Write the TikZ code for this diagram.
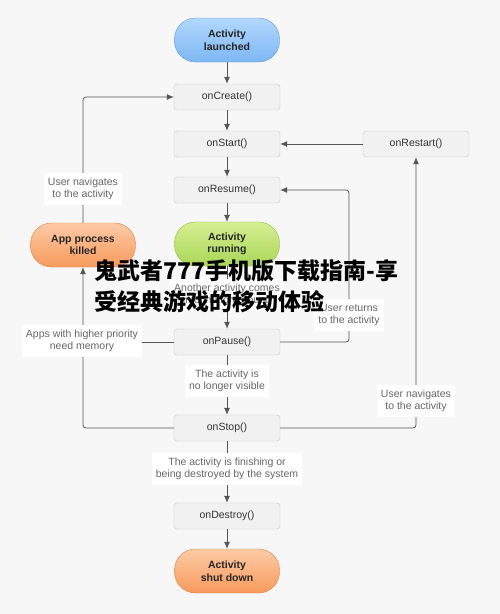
\documentclass[tikz,border=0pt]{standalone}
\usepackage{fontspec}
\setmainfont{Liberation Sans}
\newfontfamily\cjk{Noto Sans CJK SC}
\usepackage{tikz}
\usetikzlibrary{arrows.meta}

\definecolor{bgcol}{HTML}{F7F7F7}
\definecolor{boxfill}{HTML}{F1F1F1}
\definecolor{boxline}{HTML}{C9C9C9}
\definecolor{linecol}{HTML}{555555}
\definecolor{lbltext}{HTML}{666666}
\definecolor{blueA}{HTML}{B3D8FC}
\definecolor{blueB}{HTML}{7CB7F4}
\definecolor{blueC}{HTML}{5C9BE2}
\definecolor{greenA}{HTML}{D6EF92}
\definecolor{greenB}{HTML}{A9D657}
\definecolor{greenC}{HTML}{8FBF3F}
\definecolor{orangeA}{HTML}{FDCBA6}
\definecolor{orangeB}{HTML}{F79A5B}
\definecolor{orangeC}{HTML}{E0814A}

\begin{document}
\begin{tikzpicture}[x=1pt, y=-1pt,
    txt/.style={font=\fontsize{10.5}{12.5}\selectfont, align=center},
    callbox/.style={txt, draw=boxline, fill=boxfill, rounded corners=3pt,
      minimum width=106pt, minimum height=26pt, text=black!80},
    pill/.style={txt, font=\fontsize{10.5}{12.5}\selectfont\bfseries, rounded corners=21pt,
      minimum width=105pt, minimum height=44pt, text=black!85},
    lbl/.style={txt, fill=white, text=lbltext, inner xsep=4pt, inner ysep=5pt},
    conn/.style={draw=linecol, line width=0.8pt, rounded corners=3pt},
    arr/.style={conn, -{Latex[length=7pt,width=6pt]}}]
      \fill[bgcol] (0,0) rectangle (500,614);
      \useasboundingbox (0,0) rectangle (500,614);

      % states and callbacks
      \node[pill, draw=blueC, top color=blueA, bottom color=blueB] (launched) at (227,40) {Activity\\launched};
      \node[callbox] (create) at (227,97) {onCreate()};
      \node[callbox] (start) at (227,144) {onStart()};
      \node[callbox] (resume) at (227,190) {onResume()};
      \node[pill, draw=greenC, top color=greenA, bottom color=greenB] (running) at (227,244) {Activity\\running};
      \node[callbox] (pause) at (227,342) {onPause()};
      \node[callbox] (stop) at (227,428) {onStop()};
      \node[callbox] (destroy) at (227,516) {onDestroy()};
      \node[pill, draw=orangeC, top color=orangeA, bottom color=orangeB] (shutdown) at (227,571) {Activity\\shut down};
      \node[callbox] (restart) at (416,144) {onRestart()};
      \node[pill, draw=orangeC, top color=orangeA, bottom color=orangeB] (killed) at (83,245) {App process\\killed};
      \coordinate (back) at (349,0);

      % main flow
      \draw[arr] (launched) -- (create);
      \draw[arr] (create) -- (start);
      \draw[arr] (start) -- (resume);
      \draw[arr] (resume) -- (running);
      \draw[arr] (running) -- (pause);
      \draw[arr] (pause) -- (stop);
      \draw[arr] (stop) -- (destroy);
      \draw[arr] (destroy) -- (shutdown);

      % loops
      \draw[arr] (restart) -- (start);
      \draw[arr] (stop.east) -| (restart.south);
      \draw[arr] (pause.east) -| (back |- resume.east) -- (resume.east);
      \draw[arr] (killed.north) |- (create.west);
      \draw[arr] (stop.west) -| (killed.south);
      \draw[conn] (pause.west) -- (pause.west -| killed.south);

      % labels on the connectors
      \node[lbl] (navleft) at (83,189) {User navigates\\to the activity};
      \node[lbl] (memory) at (82,341) {Apps with higher priority\\need memory};
      \node[lbl] (another) at (227,295) {Another activity comes\\into the foreground};
      \node[lbl] (hidden) at (227,381) {The activity is\\no longer visible};
      \node[lbl] (finishing) at (227,469) {The activity is finishing or\\being destroyed by the system};
      \node[lbl] (returns) at (349,315) {User returns\\to the activity};
      \node[lbl] (navright) at (416,401) {User navigates\\to the activity};

      % overlaid title
      \node[anchor=west, inner sep=0pt, align=left, font=\cjk\bfseries\fontsize{23}{31}\selectfont] (title) at (94,286) {鬼武者777手机版下载指南-享\\受经典游戏的移动体验};
    \end{tikzpicture}
\end{document}
